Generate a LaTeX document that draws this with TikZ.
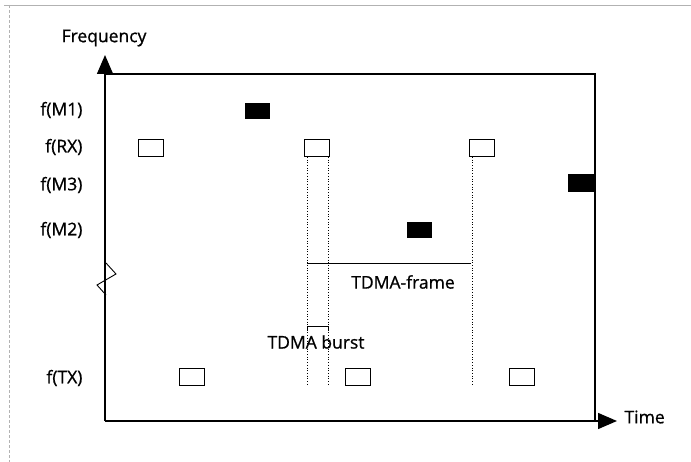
\documentclass[tikz,border=0pt]{standalone}
\usepackage{fontspec}
\setmainfont{Open Sans}[FakeBold=0.9]
\usetikzlibrary{arrows.meta}

\begin{document}
\begin{tikzpicture}[x=1pt, y=-1pt, every node/.style={font=\fontsize{17.5}{20}\selectfont},
	slot/.style={draw, line width=0.9pt, minimum width=25pt, minimum height=17pt, inner sep=0pt},
	busy/.style={fill=black, minimum width=25pt, minimum height=16pt, inner sep=0pt},
	axis/.style={line width=1.4pt, -{Triangle[length=19pt, width=16pt]}},
	guide/.style={dotted, line width=0.7pt}]
	\useasboundingbox (0,0) rectangle (691,462);
	% scan edges
	\draw[gray!60, line width=0.6pt] (4,5) -- (691,5);
	\draw[gray!60, line width=0.6pt, densely dashed] (9,5) -- (9,462);
	% axes and frame
	\coordinate (origin) at (105,421);
	\coordinate (ytip) at (105,55);
	\coordinate (xtip) at (617,421);
	\coordinate (topleft) at (105,74);
	\coordinate (topright) at (595,74);
	\coordinate (botright) at (595,421);
	\draw[axis] (origin) -- (ytip);
	\draw[axis] (origin) -- (xtip);
	\draw[line width=1.1pt] (topleft) -- (topright) -- (botright);
	\draw[line width=0.9pt] (106,263) -- (116,274) -- (97,285) -- (106,295);
	\node (freq) at (104,38) {Frequency};
	\node[anchor=west] (time) at (621,417) {Time};
	% frequency labels
	\node[anchor=east] (lm1) at (86,110) {f(M1)};
	\node[anchor=east] (lrx) at (86,147) {f(RX)};
	\node[anchor=east] (lm3) at (86,185) {f(M3)};
	\node[anchor=east] (lm2) at (86,230) {f(M2)};
	\node[anchor=east] (ltx) at (86,378) {f(TX)};
	% bursts
	\node[slot] (rx1) at (150.5,147.5) {};
	\node[slot] (rx2) at (316.5,147.5) {};
	\node[slot] (rx3) at (481.5,147.5) {};
	\node[slot] (tx1) at (191.5,376.5) {};
	\node[slot] (tx2) at (357.5,376.5) {};
	\node[slot] (tx3) at (521.5,376.5) {};
	\node[busy] (m1) at (257.5,111) {};
	\node[busy] (m2) at (419,230.5) {};
	\node[busy, minimum width=27pt, minimum height=18pt] (m3) at (581.5,183) {};
	% frame and burst markers
	\coordinate (ga) at (307,157);
	\coordinate (gb) at (328,157);
	\coordinate (gc) at (472,157);
	\draw[guide] (ga) -- (307,386);
	\draw[guide] (gb) -- (328,386);
	\draw[guide] (gc) -- (472,386);
	\draw[line width=0.9pt] (307,263) -- (471,263);
	\node (frame) at (403,282) {TDMA-frame};
	\draw[line width=0.8pt] (307,330) -- (307,326) -- (328,326) -- (328,330);
	\node (burst) at (316,342) {TDMA burst};
\end{tikzpicture}
\end{document}
